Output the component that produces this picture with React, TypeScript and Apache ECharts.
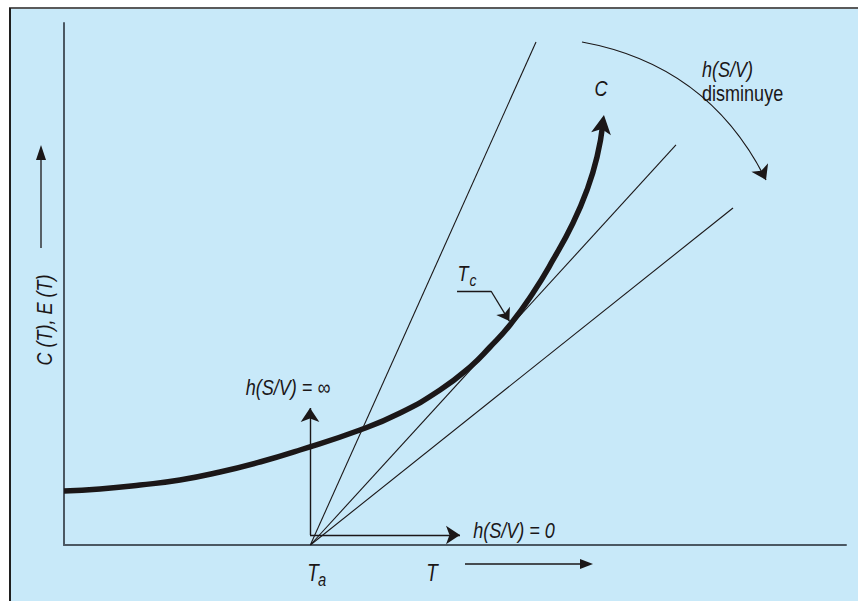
import { useEffect, useRef } from "react";
import * as echarts from "echarts";

// Both axes run on an arbitrary 0–100 scale (T horizontally, C/E vertically).
const AXIS_MAX = 100;

// Ambient temperature Ta, where every heat-loss line starts
const T_AMBIENT = 31.5;

// Heat generation curve C(T)
const curveT = [0, 4.6, 9.72, 14.83, 19.95, 25.06, 30.18, 37.85, 42.97, 48.08, 51.92, 54.48, 57.03, 59.97, 62.53, 65.09, 66.88, 68.16, 68.93];
const curveC = [10.34, 10.73, 11.49, 12.45, 13.98, 15.9, 18.2, 22.03, 25.29, 29.69, 34.1, 37.93, 42.15, 48.28, 54.6, 61.69, 68.01, 74.33, 80.84];
const curveTip = [69.05, 82.38];

// End points of the heat-loss lines E(T), steepest first (h(S/V) decreasing)
const lossEndT = [60.36, 78.26, 85.55];
const lossEndE = [96.36, 76.63, 64.56];

// Arrows for the limits h(S/V) = ∞ and h(S/V) = 0
const limitBase = [31.46, 1.92];
const limitInfTop = 26.25;
const limitZeroRight = 50.64;

// Leader from the Tc label to the tangent point: a short rule, then an arrow
const tcRuleStart = [50.26, 48.66];
const tcBend = [54.6, 48.66];
const tcPoint = [56.95, 42.9];

// Curved arrow: h(S/V) decreasing
const decreaseArc = [
  [66.24, 96.36],
  [89.77, 69.92],
];

const FONT = '"Liberation Sans", Arial, Helvetica, sans-serif';
const INK = "#1b1718";
const BG = "#c8e9f9";
// labels are set in a narrow sans: regular glyphs squeezed horizontally
const SQUEEZE = 0.82;

function text(
  str: string,
  x: number,
  y: number,
  size: number,
  opts: { italic?: boolean; align?: string; rotation?: number } = {}
) {
  return {
    type: "text",
    x,
    y,
    rotation: opts.rotation ?? 0,
    scaleX: SQUEEZE,
    style: {
      text: str,
      fill: INK,
      font: `${opts.italic === false ? "" : "italic "}${size}px ${FONT}`,
      align: opts.align ?? "center",
      verticalAlign: "middle",
    },
    z: 10,
  };
}

function arrowLine(x1: number, y1: number, x2: number, y2: number, headLen: number, headW: number) {
  const a = Math.atan2(y2 - y1, x2 - x1);
  const bx = x2 - headLen * Math.cos(a);
  const by = y2 - headLen * Math.sin(a);
  const nx = -Math.sin(a) * (headW / 2);
  const ny = Math.cos(a) * (headW / 2);
  return [
    { type: "line", shape: { x1, y1, x2: bx, y2: by }, style: { stroke: INK, lineWidth: 1.3 }, z: 10 },
    {
      type: "polygon",
      shape: { points: [[x2, y2], [bx + nx, by + ny], [bx - nx, by - ny]] },
      style: { fill: INK },
      z: 10,
    },
  ];
}

export default function App() {
  const ref = useRef<HTMLDivElement>(null);

  useEffect(() => {
    document.body.style.margin = "0";
    if (!ref.current) return;
    const chart = echarts.init(ref.current, undefined, { renderer: "svg" });

    const curveData = curveT.map((t, i) => [t, curveC[i]]);
    const lossData = lossEndT.map((t, i) => ({
      coords: [
        [T_AMBIENT, 0],
        [t, lossEndE[i]],
      ],
    }));

    const thin = { color: INK, width: 1.1, opacity: 1 };

    chart.setOption({
      animation: false,
      backgroundColor: BG,
      grid: { left: 64, right: 12, top: 23, bottom: 56, containLabel: false },
      xAxis: {
        type: "value",
        min: 0,
        max: AXIS_MAX,
        axisLine: { show: true, onZero: false, lineStyle: { color: "#4b5863", width: 2 } },
        axisTick: { show: false },
        axisLabel: { show: false },
        splitLine: { show: false },
      },
      yAxis: {
        type: "value",
        min: 0,
        max: AXIS_MAX,
        axisLine: { show: true, onZero: false, lineStyle: { color: "#4b5863", width: 2 } },
        axisTick: { show: false },
        axisLabel: { show: false },
        splitLine: { show: false },
      },
      series: [
        {
          type: "lines",
          coordinateSystem: "cartesian2d",
          data: lossData,
          lineStyle: thin,
          symbol: "none",
          z: 3,
        },
        {
          type: "lines",
          coordinateSystem: "cartesian2d",
          data: [
            { coords: [limitBase, [limitBase[0], limitInfTop]] },
            { coords: [limitBase, [limitZeroRight, limitBase[1]]] },
          ],
          lineStyle: { color: INK, width: 1.4, opacity: 1 },
          symbol: ["none", "arrow"],
          symbolSize: [10, 14],
          z: 3,
        },
        {
          type: "lines",
          coordinateSystem: "cartesian2d",
          data: [{ coords: [tcRuleStart, tcBend] }],
          lineStyle: { color: INK, width: 1.3, opacity: 1 },
          symbol: "none",
          z: 6,
        },
        {
          type: "lines",
          coordinateSystem: "cartesian2d",
          data: [{ coords: [tcBend, tcPoint] }],
          lineStyle: { color: INK, width: 1.3, opacity: 1 },
          symbol: ["none", "arrow"],
          symbolSize: [9, 12],
          z: 6,
        },
        {
          type: "lines",
          coordinateSystem: "cartesian2d",
          data: [{ coords: decreaseArc }],
          lineStyle: { color: INK, width: 1.2, opacity: 1, curveness: 0.25 },
          symbol: ["none", "arrow"],
          symbolSize: [10, 14],
          z: 3,
        },
        {
          type: "line",
          data: curveData,
          smooth: 0.5,
          symbol: "none",
          lineStyle: { color: INK, width: 5.5, cap: "butt" },
          z: 4,
        },
        {
          type: "scatter",
          data: [curveTip],
          symbol: "arrow",
          symbolSize: [15, 19],
          symbolRotate: -9,
          itemStyle: { color: INK, opacity: 1 },
          z: 5,
        },
      ],
      graphic: [
        // page margin outside the panel, and the panel's border
        { type: "rect", shape: { x: 0, y: 0, width: 858, height: 8 }, style: { fill: "#ffffff" }, z: 20 },
        { type: "rect", shape: { x: 0, y: 0, width: 9, height: 601 }, style: { fill: "#ffffff" }, z: 20 },
        { type: "line", shape: { x1: 9, y1: 8, x2: 858, y2: 8 }, style: { stroke: "#5a5a5a", lineWidth: 2 }, z: 21 },
        { type: "line", shape: { x1: 10, y1: 8, x2: 10, y2: 601 }, style: { stroke: "#1f1f1f", lineWidth: 2 }, z: 21 },

        // vertical axis title and its arrow
        text("C (T), E (T)", 44, 320, 22, { rotation: Math.PI / 2 }),
        ...arrowLine(41, 248, 41, 145, 15, 10),

        // horizontal axis labels and arrow
        text("T", 313, 573, 23),
        text("a", 322, 579, 18),
        text("T", 432, 573, 23),
        ...arrowLine(465, 564, 593, 564, 13, 10),

        text("h(S/V) = ∞", 288, 387, 22),
        text("h(S/V) = 0", 514, 530, 22),

        text("T", 463, 273, 22),
        text("c", 473, 280, 17),

        text("C", 601, 88, 22),
        text("h(S/V)", 702, 69, 22, { align: "left" }),
        text("disminuye", 702, 93, 22, { align: "left", italic: false }),
      ],
    });

    return () => chart.dispose();
  }, []);

  return <div ref={ref} style={{ width: 858, height: 601 }} />;
}
